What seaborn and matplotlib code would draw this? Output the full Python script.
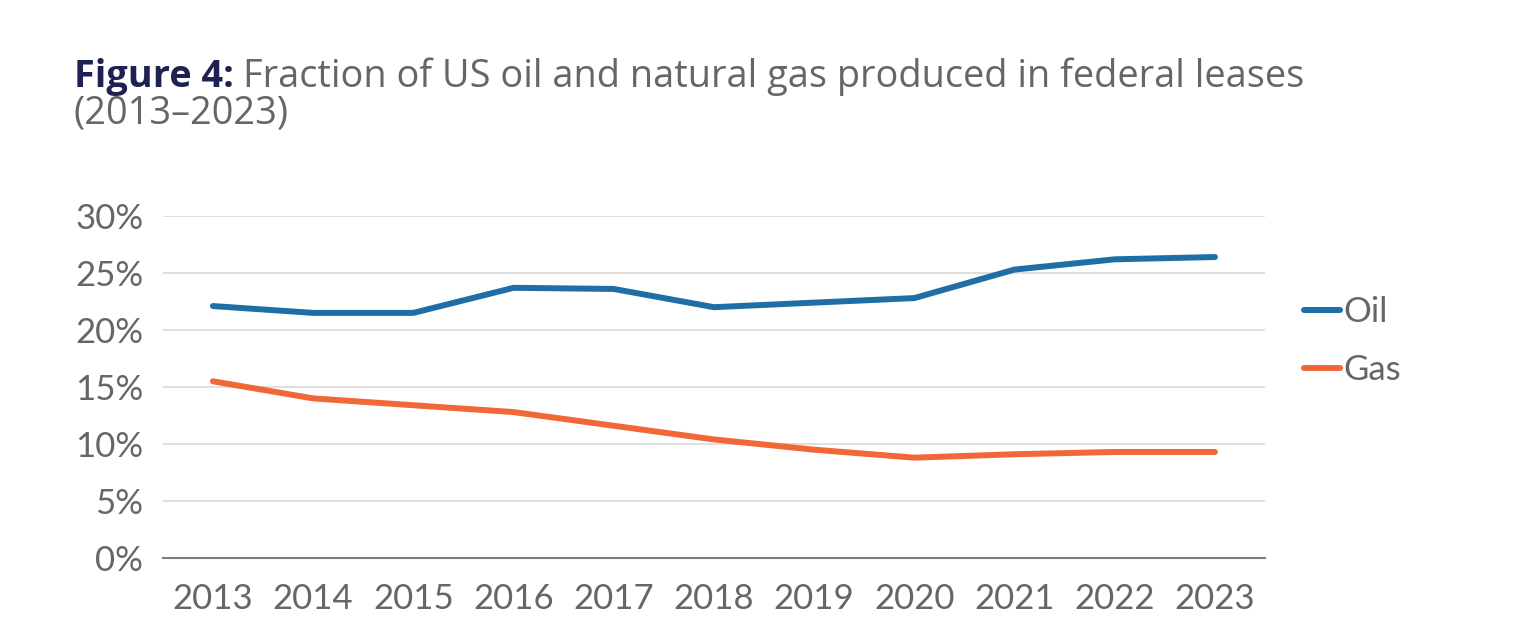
import pandas as pd
import matplotlib.pyplot as plt
import seaborn as sns
from matplotlib.ticker import FuncFormatter

# Values (percent of US production)
years = [2013, 2014, 2015, 2016, 2017, 2018, 2019, 2020, 2021, 2022, 2023]
oil = [22.1, 21.5, 21.5, 23.7, 23.6, 22.0, 22.4, 22.8, 25.3, 26.2, 26.4]
gas = [15.5, 14.0, 13.4, 12.8, 11.6, 10.4, 9.5, 8.8, 9.1, 9.3, 9.3]
series_names = ['Oil', 'Gas']
series_colors = ['#1f6ea6', '#f26736']

df = pd.DataFrame({'year': years, 'Oil': oil, 'Gas': gas})
df['pos'] = range(len(years))
long_df = df.melt(id_vars=['year', 'pos'], value_vars=series_names,
                  var_name='series', value_name='share')

sns.set_style('white')
plt.rcParams['font.family'] = ['Lato', 'DejaVu Sans']

grey = '#666666'
fig = plt.figure(figsize=(15.36, 6.31), dpi=100)
ax = fig.add_axes([0.106, 0.1157, 0.7176, 0.542])

sns.lineplot(data=long_df, x='pos', y='share', hue='series',
             hue_order=series_names, palette=series_colors,
             linewidth=4.3, ax=ax, legend=True)
for line in ax.lines:
    line.set_solid_capstyle('round')

ax.set_xlim(-0.5, len(years) - 0.5)
ax.set_ylim(0, 30)
ax.set_yticks([0, 5, 10, 15, 20, 25, 30])
ax.yaxis.set_major_formatter(FuncFormatter(lambda v, p: f'{v:.0f}%'))
ax.set_xticks(df['pos'])
ax.set_xticklabels([str(y) for y in years])
ax.tick_params(axis='both', labelsize=25, colors=grey, length=0)
ax.tick_params(axis='x', pad=18)
ax.tick_params(axis='y', pad=14)
ax.grid(axis='y', color='#d9d9d9', linewidth=1.2)
ax.set_axisbelow(True)
for side in ['top', 'right', 'left']:
    ax.spines[side].set_visible(False)
ax.spines['bottom'].set_color('#7f7f7f')
ax.spines['bottom'].set_linewidth(1.5)
ax.set_xlabel('')
ax.set_ylabel('')

handles, labels = ax.get_legend_handles_labels()
ax.legend(handles, labels, loc='center left', bbox_to_anchor=(0.8375, 0.46),
          bbox_transform=fig.transFigure, frameon=False, fontsize=25,
          labelcolor=grey, handlelength=1.05, handletextpad=0.1,
          labelspacing=0.75, borderpad=0)

# Title: bold navy prefix followed by grey text
title_font = ['Open Sans', 'DejaVu Sans']
t1 = fig.text(0.048, 0.862, 'Figure 4:', fontsize=27.3, fontweight='bold',
              color='#1d2252', va='baseline', family=title_font)
fig.canvas.draw()
bb = t1.get_window_extent()
x_next = (bb.x1 + 9) / fig.bbox.width
fig.text(x_next, 0.862, 'Fraction of US oil and natural gas produced in federal leases',
         fontsize=27.3, color=grey, va='baseline', family=title_font)
fig.text(0.048, 0.804, '(2013\u20132023)', fontsize=27.3, color=grey,
         va='baseline', family=title_font)

plt.savefig('out.png', dpi=100)
